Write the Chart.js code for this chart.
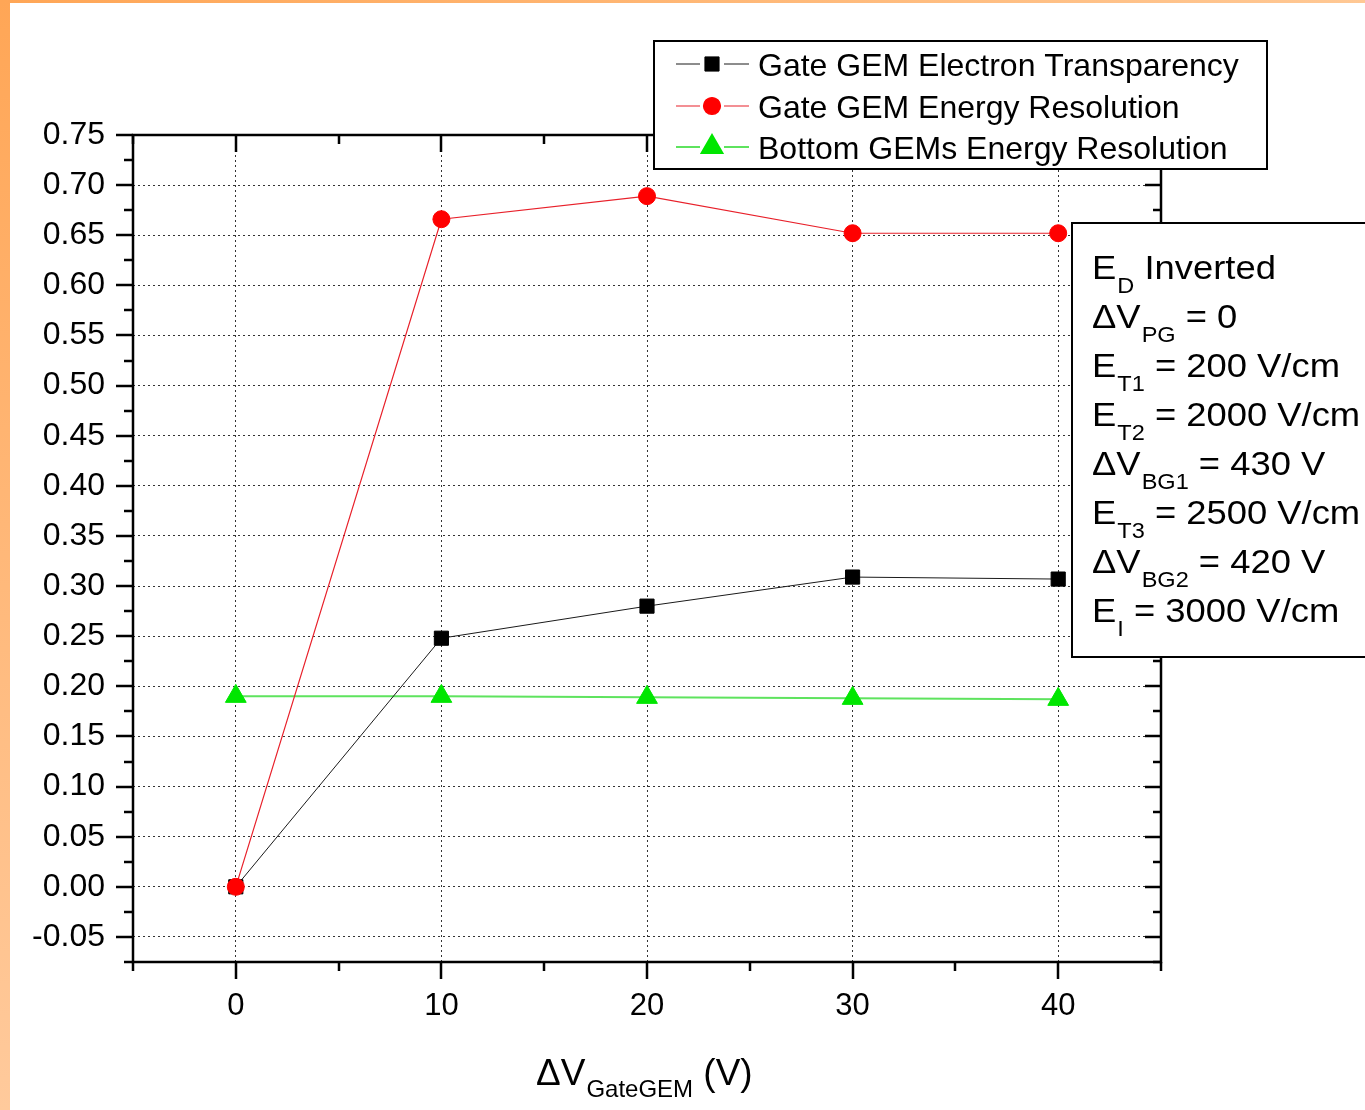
<!DOCTYPE html>
<html>
<head>
<meta charset="utf-8">
<script src="https://cdn.jsdelivr.net/npm/chart.js@4.4.1/dist/chart.umd.min.js"></script>
<style>
  html,body{margin:0;padding:0;background:#fff;}
  #wrap{position:relative;width:1365px;height:1110px;overflow:hidden;}
  #wrap canvas{position:absolute;left:0;top:0;}
  #topbar{position:absolute;left:0;top:0;width:1365px;height:3px;background:linear-gradient(to right,#ffa656,#ffc894);}
  #leftbar{position:absolute;left:0;top:0;width:10px;height:1110px;background:linear-gradient(to bottom,#ffa656,#ffca9c);}
</style>
</head>
<body>
<div id="wrap">
  <canvas id="chart" width="1365" height="1110"></canvas>
  <div id="topbar"></div>
  <div id="leftbar"></div>
</div>
<script>
// values
var X_VALUES = [0, 10, 20, 30, 40];
var TRANSPARENCY = [0.000, 0.248, 0.280, 0.309, 0.307];
var GATE_RESOLUTION = [0.000, 0.666, 0.689, 0.652, 0.652];
var BOTTOM_RESOLUTION = [0.190, 0.190, 0.189, 0.188, 0.187];
var SERIES_NAMES = ['Gate GEM Electron Transparency', 'Gate GEM Energy Resolution', 'Bottom GEMs Energy Resolution'];
var X_TICKS = [0, 10, 20, 30, 40];
var Y_TICKS = [-0.05, 0.00, 0.05, 0.10, 0.15, 0.20, 0.25, 0.30, 0.35, 0.40, 0.45, 0.50, 0.55, 0.60, 0.65, 0.70, 0.75];
// text box: [main, subscript, rest]
var NOTES = [
  ['E', 'D', ' Inverted'],
  ['\u0394V', 'PG', ' = 0'],
  ['E', 'T1', ' = 200 V/cm'],
  ['E', 'T2', ' = 2000 V/cm'],
  ['\u0394V', 'BG1', ' = 430 V'],
  ['E', 'T3', ' = 2500 V/cm'],
  ['\u0394V', 'BG2', ' = 420 V'],
  ['E', 'I', ' = 3000 V/cm']
];

var FONT = '"Liberation Sans", Arial, sans-serif';

function pts(ys){ return X_VALUES.map(function(x,i){ return {x:x, y:ys[i]}; }); }

function marker(ctx, ds, x, y){
  ctx.save();
  ctx.fillStyle = ds.pointBackgroundColor;
  ctx.strokeStyle = ds.pointBorderColor;
  Chart.helpers.drawPoint(ctx, {pointStyle: ds.pointStyle, radius: ds.pointRadius, rotation: 0, borderWidth: ds.pointBorderWidth}, x, y);
  ctx.restore();
}

// main text, lowered subscript, rest of line; sx stretches horizontally
function subText(ctx, x, y, parts, big, small, drop, sx){
  ctx.save();
  ctx.translate(x, y);
  ctx.scale(sx || 1, 1);
  var cx = 0;
  ctx.font = big + 'px ' + FONT;
  ctx.fillText(parts[0], cx, 0);
  cx += ctx.measureText(parts[0]).width + 1;
  ctx.font = small + 'px ' + FONT;
  ctx.fillText(parts[1], cx, drop);
  cx += ctx.measureText(parts[1]).width;
  ctx.font = big + 'px ' + FONT;
  ctx.fillText(parts[2], cx, 0);
  ctx.restore();
}

var originFrame = {
  id: 'originFrame',
  afterDraw: function(chart){
    var ctx = chart.ctx, a = chart.chartArea, xs = chart.scales.x, ys = chart.scales.y;
    ctx.save();
    ctx.strokeStyle = '#000';
    ctx.lineWidth = 2.5;
    ctx.strokeRect(a.left, a.top, a.right - a.left, a.bottom - a.top);

    // tick marks: left/bottom outward, top/right inward
    ctx.beginPath();
    var i, v, p, len, major;
    var ny = Math.round((ys.max - ys.min) / 0.025);
    for(i = 0; i <= ny; i++){
      v = ys.min + i * 0.025;
      major = Math.abs(v / 0.05 - Math.round(v / 0.05)) < 1e-6;
      p = Math.round(ys.getPixelForValue(v));
      len = major ? 17 : 9;
      ctx.moveTo(a.left - len, p); ctx.lineTo(a.left, p);
      ctx.moveTo(a.right, p); ctx.lineTo(a.right - (major ? 16 : 8), p);
    }
    var nx = Math.round((xs.max - xs.min) / 5);
    for(i = 0; i <= nx; i++){
      v = xs.min + i * 5;
      major = v % 10 === 0;
      p = Math.round(xs.getPixelForValue(v));
      len = major ? 17 : 9;
      ctx.moveTo(p, a.bottom); ctx.lineTo(p, a.bottom + len);
      ctx.moveTo(p, a.top); ctx.lineTo(p, a.top + len);
    }
    ctx.stroke();

    // legend box
    var dsets = chart.data.datasets;
    ctx.fillStyle = '#fff';
    ctx.fillRect(654, 41, 613, 128);
    ctx.lineWidth = 2;
    ctx.strokeRect(654, 41, 613, 128);
    var rows = [64, 106, 147];
    dsets.forEach(function(ds, k){
      var yy = rows[k];
      ctx.strokeStyle = ds.borderColor;
      ctx.lineWidth = ds.borderWidth;
      ctx.beginPath();
      ctx.moveTo(676, yy); ctx.lineTo(700, yy);
      ctx.moveTo(724, yy); ctx.lineTo(749, yy);
      ctx.stroke();
      marker(ctx, ds, 712, yy);
      ctx.fillStyle = '#000';
      ctx.font = '32px ' + FONT;
      ctx.textBaseline = 'alphabetic';
      ctx.textAlign = 'left';
      ctx.fillText(ds.label, 758, yy + 12);
    });

    // parameter box
    ctx.fillStyle = '#fff';
    ctx.fillRect(1072, 223, 300, 434);
    ctx.strokeStyle = '#000';
    ctx.lineWidth = 2;
    ctx.strokeRect(1072, 223, 300, 434);
    ctx.fillStyle = '#000';
    NOTES.forEach(function(n, k){
      subText(ctx, 1092, 279 + k * 49, n, 34, 22, 14, 1.07);
    });

    // x axis title
    subText(ctx, 536, 1085, ['\u0394V', 'GateGEM', ' (V)'], 37, 24, 12, 1);
    ctx.restore();
  }
};

var gridStyle = {color: 'rgba(0,0,0,0.8)', lineWidth: 1, drawTicks: false};
var gridBorder = {display: false, dash: [2, 3]};

new Chart(document.getElementById('chart'), {
  type: 'line',
  data: {
    datasets: [
      {label: SERIES_NAMES[0], data: pts(TRANSPARENCY), order: 1,
       borderColor: '#1a1a1a', borderWidth: 1, pointStyle: 'rect', pointRadius: 10,
       pointBackgroundColor: '#000', pointBorderColor: '#000', pointBorderWidth: 1},
      {label: SERIES_NAMES[1], data: pts(GATE_RESOLUTION), order: 0,
       borderColor: '#e8202a', borderWidth: 1.2, pointStyle: 'circle', pointRadius: 8.5,
       pointBackgroundColor: '#ff0000', pointBorderColor: '#ff0000', pointBorderWidth: 1},
      {label: SERIES_NAMES[2], data: pts(BOTTOM_RESOLUTION), order: 2,
       borderColor: '#5ee35e', borderWidth: 2, pointStyle: 'triangle', pointRadius: 12,
       pointBackgroundColor: '#00e600', pointBorderColor: '#00e600', pointBorderWidth: 1}
    ]
  },
  options: {
    responsive: false,
    animation: false,
    events: [],
    layout: {padding: {left: 0, top: 135, right: 204, bottom: 0}},
    elements: {line: {tension: 0, fill: false}},
    plugins: {legend: {display: false}, tooltip: {enabled: false}, title: {display: false}},
    scales: {
      x: {
        type: 'linear', min: -5, max: 45,
        afterBuildTicks: function(s){ s.ticks = X_TICKS.map(function(v){ return {value: v}; }); },
        afterFit: function(s){ s.height = 148; },
        grid: gridStyle, border: gridBorder,
        ticks: {color: '#000', padding: 26, maxRotation: 0, font: {family: FONT, size: 31}}
      },
      y: {
        type: 'linear', min: -0.075, max: 0.75,
        afterBuildTicks: function(s){ s.ticks = Y_TICKS.map(function(v){ return {value: v}; }); },
        afterFit: function(s){ s.width = 133; },
        grid: gridStyle, border: gridBorder,
        ticks: {color: '#000', padding: 28, font: {family: FONT, size: 32},
                callback: function(v){ return Number(v).toFixed(2); }}
      }
    }
  },
  plugins: [originFrame]
});
</script>
</body>
</html>
